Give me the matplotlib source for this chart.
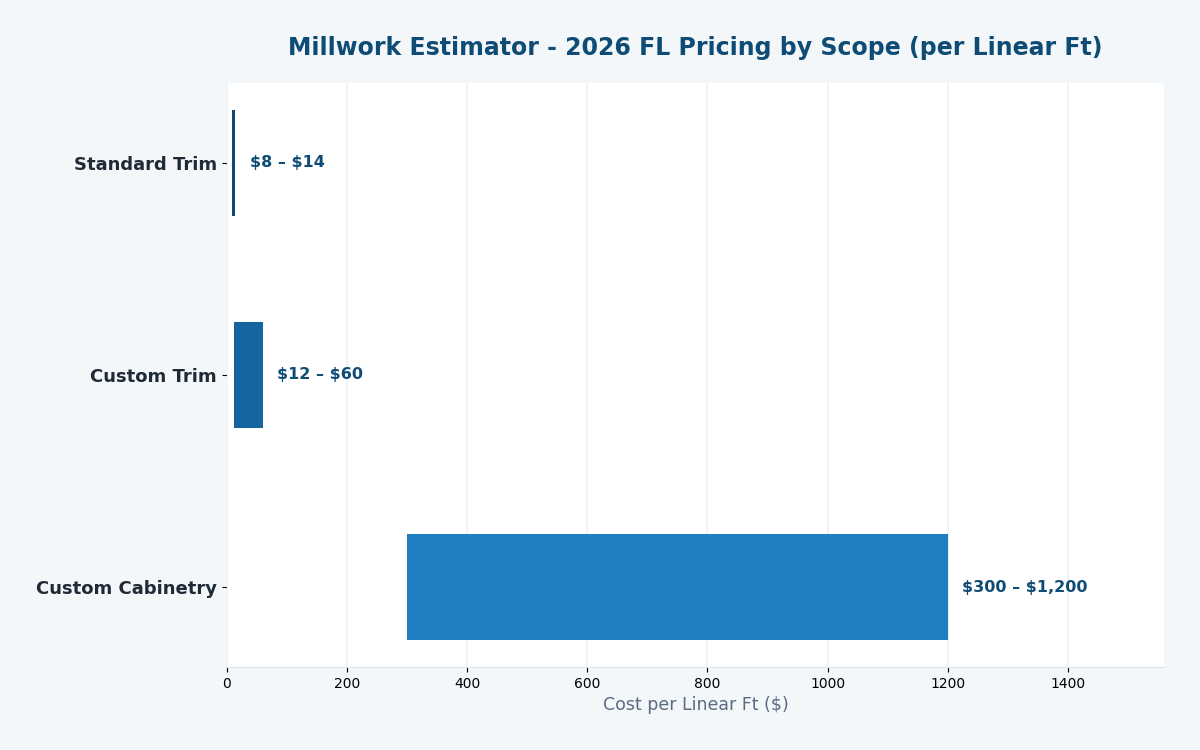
import matplotlib
matplotlib.use("Agg")
import matplotlib.pyplot as plt

categories = ["Standard Trim", "Custom Trim", "Custom Cabinetry"]
low = [8, 12, 300]
high = [14, 60, 1200]
labels = ["$8 – $14", "$12 – $60", "$300 – $1,200"]
colors = ["#0d4a75", "#1565a0", "#1f7fc1"]

fig = plt.figure(figsize=(12, 7.5), dpi=100, facecolor="#f4f7fa")
ax = fig.add_axes([0.189, 0.1107, 0.781, 0.7786])
ax.set_facecolor("white")

y = list(range(len(categories)))
widths = [h - l for l, h in zip(low, high)]
ax.barh(y, widths, left=low, height=0.5, color=colors, zorder=3)
ax.invert_yaxis()

maxv = max(high)
for yi, h, lab in zip(y, high, labels):
    ax.text(h + maxv * 0.02, yi, lab.replace("$", r"\$"), va="center", ha="left",
            fontsize=11.5, fontweight="bold", color="#0f4c75", zorder=4)

ax.set_xlim(0, maxv * 1.3)
ax.set_yticks(y)
ax.set_yticklabels(categories, fontsize=13, fontweight="bold", color="#1f2a36")
ax.tick_params(axis="x", labelsize=10, colors="#000000")
ax.grid(axis="x", color="#edf1f5", linewidth=1.2, zorder=0)
ax.set_axisbelow(True)
for s in ["top", "right"]:
    ax.spines[s].set_visible(False)
ax.spines["left"].set_color("#f0f3f7")
ax.spines["bottom"].set_color("#dde3ea")

ax.set_xlabel(r"Cost per Linear Ft (\$)", fontsize=12.5, color="#5a6b80")
ax.set_title("Millwork Estimator - 2026 FL Pricing by Scope (per Linear Ft)",
             fontsize=17, fontweight="bold", color="#0f4c75", pad=20)

fig.savefig("out.png", dpi=100, facecolor=fig.get_facecolor())
